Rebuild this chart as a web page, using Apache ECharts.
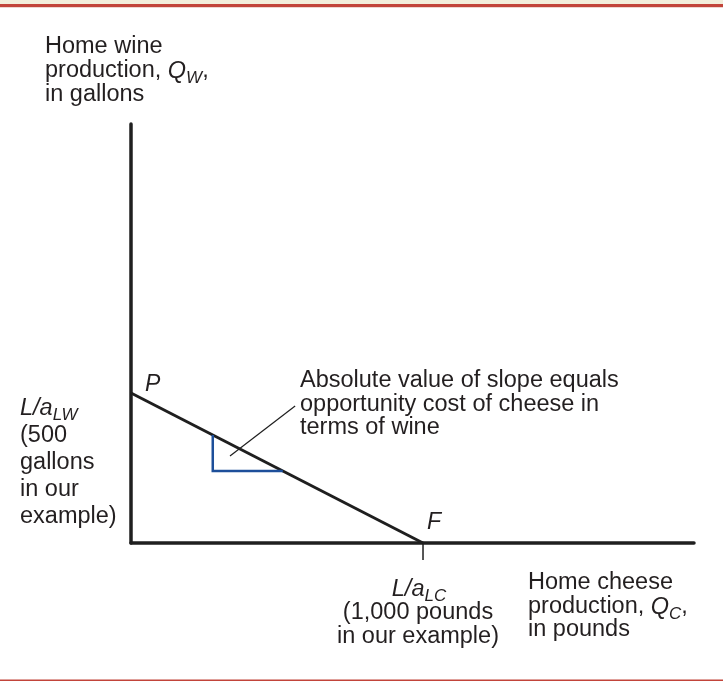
<!DOCTYPE html>
<html><head><meta charset="utf-8">
<script src="https://cdn.jsdelivr.net/npm/echarts@6/dist/echarts.min.js"></script>
<style>html,body{margin:0;padding:0;background:#fff}#c{width:723px;height:681px}</style>
</head><body><div id="c"></div>
<script>
// Data (cheese pounds on x, wine gallons on y)
const ppfLine = [[0, 500], [1000, 0]];           // P (L/aLW = 500) to F (L/aLC = 1000)
const slopeTriangle = [[280, 360], [280, 240], [520, 240]];
const leaderLine = [[339, 290], [562, 457]];
const tickP = [[-58, 500], [0, 500]];
const tickF = [[1000, 0], [1000, -57]];
const pointLabels = ['P', 'F'];

const FONT = '"Liberation Sans", Arial, Helvetica, sans-serif';
const TXT = '#231f20';
const FS = 23.5;

const chart = echarts.init(document.getElementById('c'), null, {renderer: 'canvas'});

function line(x, y, text, rich, align) {
  return {
    type: 'text', x: x, y: y, silent: true,
    style: {
      text: text, rich: rich || {}, fill: TXT,
      font: FS + 'px ' + FONT,
      textAlign: align || 'left', textVerticalAlign: 'middle'
    }
  };
}
const richBase = {
  n: {fontSize: FS, fontFamily: FONT, color: TXT, lineHeight: 26},
  i: {fontSize: FS, fontFamily: FONT, fontStyle: 'italic', color: TXT, lineHeight: 26},
  s: {fontSize: 17, fontFamily: FONT, fontStyle: 'italic', color: TXT, lineHeight: 26, padding: [14, 0, 0, 0]}
};

const graphics = [
  {type: 'rect', shape: {x: 0, y: 0, width: 723, height: 4}, style: {fill: '#f3eedb'}, silent: true},
  {type: 'rect', shape: {x: 0, y: 4, width: 723, height: 3}, style: {fill: '#c2443a'}, silent: true},
  {type: 'rect', shape: {x: 0, y: 7, width: 723, height: 1}, style: {fill: '#efd6d0'}, silent: true},
  {type: 'rect', shape: {x: 0, y: 679.5, width: 723, height: 1.5}, style: {fill: '#c2443a'}, silent: true},

  line(45, 47, '{n|Home wine}', richBase),
  line(45, 71, '{n|production, }{i|Q}{s|W}{n|,}', richBase),
  line(45, 95, '{n|in gallons}', richBase),

  line(20, 408, '{i|L/a}{s|LW}', richBase),
  line(20, 436, '{n|(500}', richBase),
  line(20, 463, '{n|gallons}', richBase),
  line(20, 490, '{n|in our}', richBase),
  line(20, 517, '{n|example)}', richBase),

  line(300, 381, '{n|Absolute value of slope equals}', richBase),
  line(300, 405, '{n|opportunity cost of cheese in}', richBase),
  line(300, 428, '{n|terms of wine}', richBase),

  line(419, 589, '{i|L/a}{s|LC}', richBase, 'center'),
  line(418, 613, '{n|(1,000 pounds}', richBase, 'center'),
  line(418, 637, '{n|in our example)}', richBase, 'center'),

  line(528, 583, '{n|Home cheese}', richBase),
  line(528, 607, '{n|production, }{i|Q}{s|C}{n|,}', richBase),
  line(528, 630, '{n|in pounds}', richBase)
];

const option = {
  animation: false,
  backgroundColor: '#ffffff',
  grid: {left: 131, top: 124, width: 563, height: 419},
  xAxis: {
    type: 'value', min: 0, max: 1928,
    axisLine: {show: true, onZero: false, lineStyle: {color: '#1f1f1f', width: 3.5}},
    axisTick: {show: false}, axisLabel: {show: false}, splitLine: {show: false}
  },
  yAxis: {
    type: 'value', min: 0, max: 1397,
    axisLine: {show: true, onZero: false, lineStyle: {color: '#1f1f1f', width: 3.5}},
    axisTick: {show: false}, axisLabel: {show: false}, splitLine: {show: false}
  },
  series: [
    {
      type: 'line', data: ppfLine, symbol: 'none', clip: false, silent: true,
      lineStyle: {color: '#1f1f1f', width: 3},
      markPoint: {
        symbol: 'circle', symbolSize: 0, silent: true,
        label: {show: true, fontFamily: FONT, fontStyle: 'italic', fontSize: 23, color: TXT},
        data: [
          {coord: ppfLine[0], value: pointLabels[0], label: {formatter: pointLabels[0], position: [14, -8], verticalAlign: 'middle', align: 'left'}},
          {coord: ppfLine[1], value: pointLabels[1], label: {formatter: pointLabels[1], position: [4, -20], verticalAlign: 'middle', align: 'left'}}
        ]
      }
    },
    {type: 'line', data: slopeTriangle, symbol: 'none', clip: false, silent: true,
      lineStyle: {color: '#1d4f9a', width: 2.5, join: 'miter'}},
    {type: 'line', data: leaderLine, symbol: 'none', clip: false, silent: true,
      lineStyle: {color: '#1f1f1f', width: 1.2}},
    {type: 'line', data: tickP, symbol: 'none', clip: false, silent: true,
      lineStyle: {color: '#1f1f1f', width: 1.5}},
    {type: 'line', data: tickF, symbol: 'none', clip: false, silent: true,
      lineStyle: {color: '#1f1f1f', width: 1.5}}
  ],
  graphic: graphics
};
chart.setOption(option);
</script>
</body></html>
